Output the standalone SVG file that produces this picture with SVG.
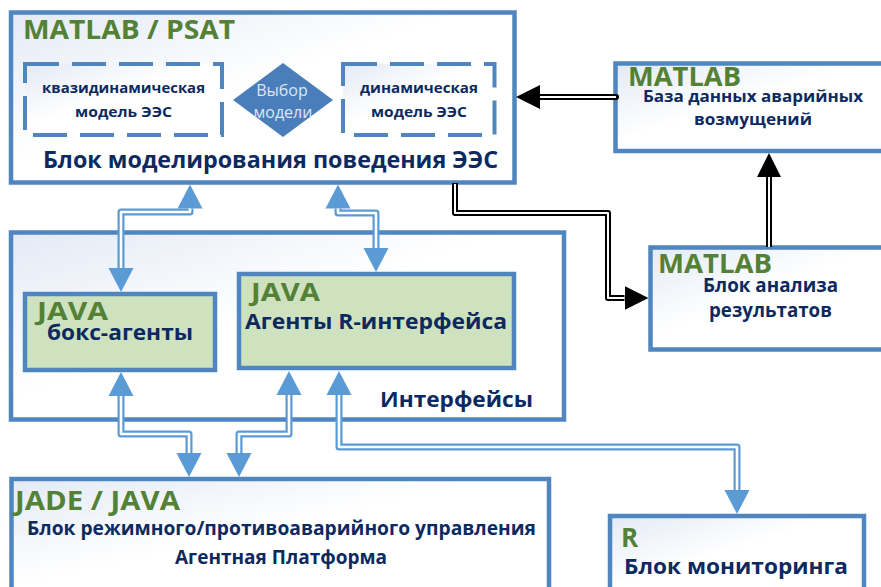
<svg xmlns="http://www.w3.org/2000/svg" width="881" height="587" viewBox="0 0 881 587">
<style>
.box{stroke:#4f86c0;stroke-width:4.5;fill:url(#bg)}
.gbox{stroke:#4f86c0;stroke-width:4.5;fill:#cfe2c0}
.dash{stroke:#4f86c0;stroke-width:4;fill:url(#bg);stroke-dasharray:34 13}
.t{font-family:"Open Sans","Noto Sans","Liberation Sans",sans-serif;font-weight:bold;fill:#0c2a5f}
.g{font-family:"Open Sans","Noto Sans","Liberation Sans",sans-serif;font-weight:bold;fill:#538135}
.w{font-family:"Open Sans","Noto Sans","Liberation Sans",sans-serif;fill:#dce6f2}
.bo{fill:none;stroke:#5b9bd5;stroke-width:7;stroke-linejoin:round}
.bi{fill:none;stroke:#ffffff;stroke-width:2.6;stroke-linejoin:round}
.ko{fill:none;stroke:#000000;stroke-width:6;stroke-linejoin:round}
.ki{fill:none;stroke:#ffffff;stroke-width:2;stroke-linejoin:round}
</style>
<defs>
<linearGradient id="bg" x1="0" y1="0" x2="1" y2="1">
<stop offset="0" stop-color="#e3eaf5"/>
<stop offset="0.45" stop-color="#ffffff"/>
<stop offset="1" stop-color="#ffffff"/>
</linearGradient>
<marker id="ab" markerUnits="userSpaceOnUse" markerWidth="26" markerHeight="26" viewBox="0 -13 26 26" refX="0" refY="0" orient="auto-start-reverse">
<path d="M0,-12.5 L24,0 L0,12.5 z" fill="#5b9bd5"/>
</marker>
<marker id="ak" markerUnits="userSpaceOnUse" markerWidth="26" markerHeight="26" viewBox="0 -13 26 26" refX="0" refY="0" orient="auto-start-reverse">
<path d="M0,-12 L24,0 L0,12 z" fill="#000000"/>
</marker>
</defs>
<rect width="881" height="587" fill="#ffffff"/>

<g id="psat">
<rect class="box" x="11" y="12.5" width="503.5" height="170"/>
<text class="g" x="23" y="39" font-size="27" textLength="212" lengthAdjust="spacingAndGlyphs">MATLAB / PSAT</text>
<text class="t" x="43" y="168" font-size="24" textLength="455" lengthAdjust="spacingAndGlyphs">Блок моделирования поведения ЭЭС</text>
</g>
<g id="quasi">
<rect class="dash" x="25" y="64" width="197" height="71"/>
<text class="t" x="42" y="93" font-size="15" textLength="163" lengthAdjust="spacingAndGlyphs">квазидинамическая</text>
<text class="t" x="75" y="117" font-size="15" textLength="97" lengthAdjust="spacingAndGlyphs">модель ЭЭС</text>
</g>
<g id="choice">
<polygon points="283,63 333,100 283,137 233,100" fill="#4a7ebb"/>
<text class="w" x="282" y="96" font-size="16" text-anchor="middle">Выбор</text>
<text class="w" x="283" y="118" font-size="16" text-anchor="middle">модели</text>
</g>
<g id="dyn">
<rect class="dash" x="343" y="64" width="151.5" height="71"/>
<text class="t" x="360" y="93" font-size="15" textLength="118" lengthAdjust="spacingAndGlyphs">динамическая</text>
<text class="t" x="371" y="117" font-size="15" textLength="96" lengthAdjust="spacingAndGlyphs">модель ЭЭС</text>
</g>
<g id="db">
<rect class="box" x="615.5" y="63.5" width="280" height="87.5"/>
<text class="g" x="628" y="86" font-size="27" textLength="113" lengthAdjust="spacingAndGlyphs">MATLAB</text>
<text class="t" x="643" y="102" font-size="16" textLength="220" lengthAdjust="spacingAndGlyphs">База данных аварийных</text>
<text class="t" x="694" y="125" font-size="16" textLength="118" lengthAdjust="spacingAndGlyphs">возмущений</text>
</g>
<g id="analysis">
<rect class="box" x="650.5" y="247.5" width="250" height="102"/>
<text class="g" x="658" y="273" font-size="27" textLength="114" lengthAdjust="spacingAndGlyphs">MATLAB</text>
<text class="t" x="703" y="292" font-size="19" textLength="135" lengthAdjust="spacingAndGlyphs">Блок анализа</text>
<text class="t" x="709" y="317" font-size="19" textLength="123" lengthAdjust="spacingAndGlyphs">результатов</text>
</g>
<g id="interfaces">
<rect class="box" x="11" y="232.5" width="553" height="187"/>
<text class="t" x="380" y="407" font-size="21" textLength="153" lengthAdjust="spacingAndGlyphs">Интерфейсы</text>
</g>
<g id="box-agents">
<rect class="gbox" x="25" y="294" width="190" height="76"/>
<text class="g" x="37" y="320" font-size="25" textLength="71" lengthAdjust="spacingAndGlyphs">JAVA</text>
<text class="t" x="47" y="340" font-size="21" textLength="146" lengthAdjust="spacingAndGlyphs">бокс-агенты</text>
</g>
<g id="r-agents">
<rect class="gbox" x="239" y="274" width="275" height="94"/>
<text class="g" x="251" y="301" font-size="25" textLength="69" lengthAdjust="spacingAndGlyphs">JAVA</text>
<text class="t" x="245" y="329" font-size="21" textLength="262" lengthAdjust="spacingAndGlyphs">Агенты R-интерфейса</text>
</g>
<g id="jade">
<rect class="box" x="11.5" y="479" width="537.5" height="120"/>
<text class="g" x="15" y="510" font-size="27" font-weight="600" textLength="165" lengthAdjust="spacingAndGlyphs">JADE / JAVA</text>
<text class="t" x="27" y="535" font-size="19" textLength="509" lengthAdjust="spacingAndGlyphs">Блок режимного/противоаварийного управления</text>
<text class="t" x="175" y="564" font-size="19" textLength="212" lengthAdjust="spacingAndGlyphs">Агентная Платформа</text>
</g>
<g id="monitoring">
<rect class="box" x="610" y="516" width="254" height="80"/>
<text class="g" x="621" y="547" font-size="26">R</text>
<text class="t" x="624" y="574" font-size="22" textLength="224" lengthAdjust="spacingAndGlyphs">Блок мониторинга</text>
</g>

<g id="connectors">
<path class="bo" d="M190,208.5 L190,212 L121,212 L121,268" marker-start="url(#ab)" marker-end="url(#ab)"/>
<path class="bi" d="M190,208.5 L190,212 L121,212 L121,268"/>
<path class="bo" d="M338,208.5 L338,213 L376,213 L376,248" marker-start="url(#ab)" marker-end="url(#ab)"/>
<path class="bi" d="M338,208.5 L338,213 L376,213 L376,248"/>
<path class="bo" d="M121,396 L121,434 L189,434 L189,453" marker-start="url(#ab)" marker-end="url(#ab)"/>
<path class="bi" d="M121,396 L121,434 L189,434 L189,453"/>
<path class="bo" d="M289,395 L289,434 L239,434 L239,453" marker-start="url(#ab)" marker-end="url(#ab)"/>
<path class="bi" d="M289,395 L289,434 L239,434 L239,453"/>
<path class="bo" d="M339,395 L339,447 L737,447 L737,490" marker-start="url(#ab)" marker-end="url(#ab)"/>
<path class="bi" d="M339,395 L339,447 L737,447 L737,490"/>
<path class="ko" d="M616,97 L540,97" stroke-linecap="round" marker-end="url(#ak)"/>
<path class="ki" d="M616,97 L540,97"/>
<path class="ko" d="M769,247 L769,177" marker-end="url(#ak)"/>
<path class="ki" d="M769,247 L769,177"/>
<path class="ko" d="M455,183 L455,213 L608,213 L608,298 L624.5,298" marker-end="url(#ak)"/>
<path class="ki" d="M455,184 L455,213 L608,213 L608,298 L624.5,298"/>
</g>
</svg>
